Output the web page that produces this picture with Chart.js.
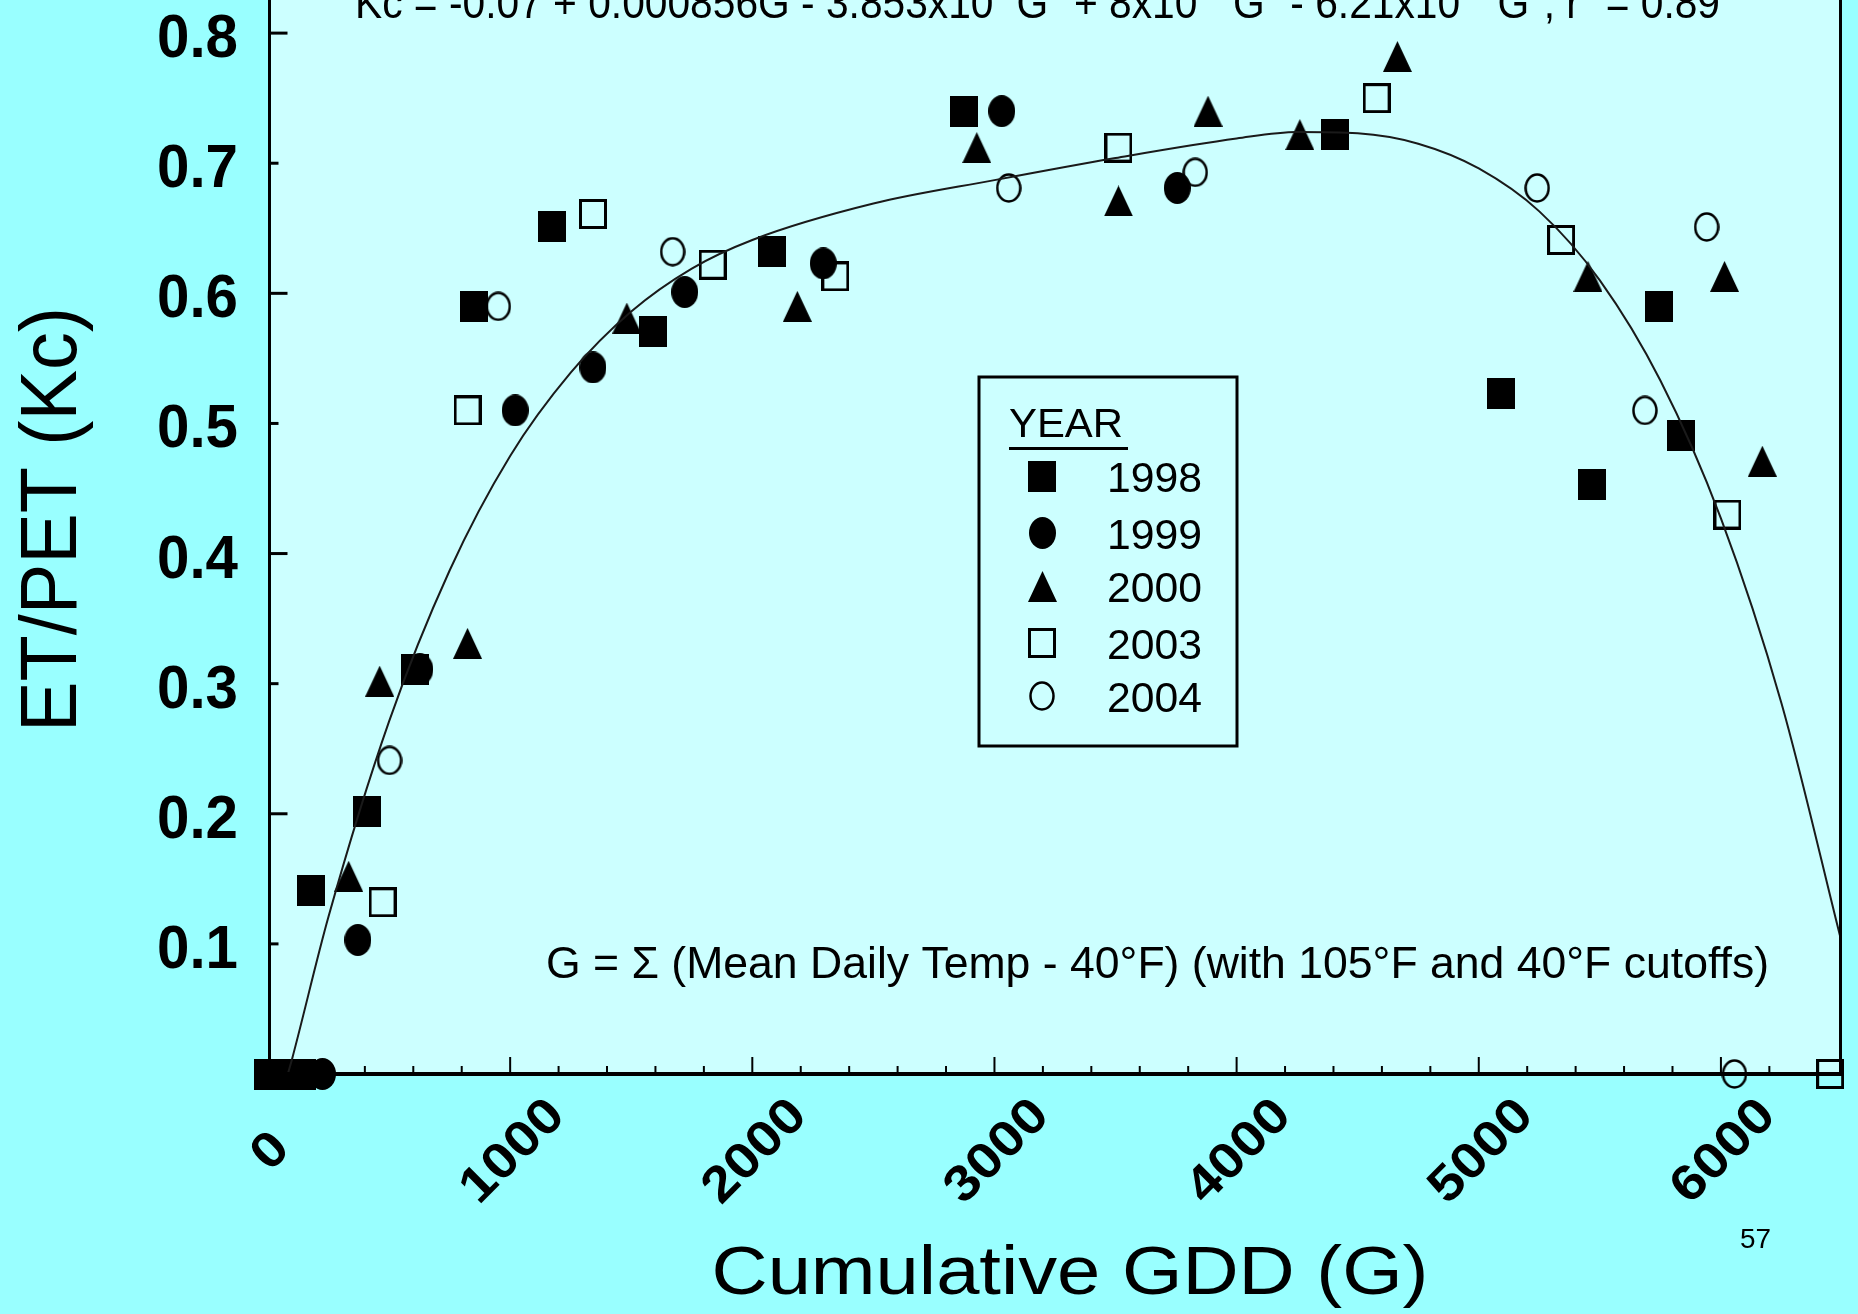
<!DOCTYPE html>
<html>
<head>
<meta charset="utf-8">
<script src="https://cdn.jsdelivr.net/npm/chart.js@4.4.1/dist/chart.umd.min.js"></script>
<style>
  html, body { margin: 0; padding: 0; overflow: hidden; background: #99ffff; }
  #wrap { position: relative; width: 1858px; height: 1314px; overflow: hidden; }
  #kc { position: absolute; left: 0; top: -130px; }
</style>
</head>
<body>
<div id="wrap"><canvas id="kc" width="1858" height="1444"></canvas></div>
<script>
// Datos (GDD acumulado, Kc)
const years = ['1998', '1999', '2000', '2003', '2004'];

const gdd1998 = [0, 70, 140, 177, 408, 605, 852, 1173, 1589, 2083, 2874, 4405, 5093, 5467, 5743, 5834];
const kc1998  = [0, 0, 0, 0.141, 0.202, 0.311, 0.590, 0.651, 0.571, 0.632, 0.740, 0.722, 0.523, 0.453, 0.590, 0.491];

const gdd1999 = [225, 371, 627, 1021, 1342, 1721, 2293, 3030, 3755];
const kc1999  = [0, 0.103, 0.311, 0.510, 0.543, 0.601, 0.623, 0.740, 0.681];

const gdd2000 = [110, 333, 461, 824, 1482, 2186, 2927, 3512, 3882, 4261, 4664, 5451, 6015, 6171];
const kc2000  = [0, 0.152, 0.302, 0.331, 0.581, 0.590, 0.712, 0.671, 0.740, 0.722, 0.782, 0.613, 0.613, 0.471];

const gdd2003 = [473, 824, 1342, 1836, 2343, 3512, 4578, 5340, 6027, 6451];
const kc2003  = [0.132, 0.510, 0.661, 0.622, 0.613, 0.712, 0.750, 0.641, 0.430, 0];

const gdd2004 = [502, 951, 1671, 3059, 3829, 5241, 5686, 5941, 6056];
const kc2004  = [0.241, 0.590, 0.632, 0.681, 0.693, 0.681, 0.510, 0.651, 0];

// curva ajustada
const curveG  = [82, 100, 250, 500, 750, 1000, 1250, 1500, 1750, 2000, 2500, 3000, 3500, 4000, 4250, 4500, 4750, 5000, 5250, 5500, 5750, 6000, 6250, 6500];
const curveKc = [0, 0.012, 0.121, 0.271, 0.387, 0.475, 0.539, 0.586, 0.619, 0.641, 0.669, 0.687, 0.704, 0.719, 0.724, 0.723, 0.715, 0.696, 0.663, 0.610, 0.533, 0.427, 0.285, 0.100];

const xTickLabels = ['0', '1000', '2000', '3000', '4000', '5000', '6000'];
const yTickLabels = ['0.1', '0.2', '0.3', '0.4', '0.5', '0.6', '0.7', '0.8'];

const OFF = 130; // el canvas sube 130px, la parte de arriba queda cortada
const FONT = '"Liberation Sans", Arial, sans-serif';

// Marcadores
function marker(w, h, draw) {
    const c = document.createElement('canvas');
    c.width = w; c.height = h;
    const x = c.getContext('2d');
    x.fillStyle = '#000'; x.strokeStyle = '#000';
    draw(x, w, h);
    return c;
}
const mSquare = marker(28, 31, (x, w, h) => x.fillRect(0, 0, w, h));
const mDot = marker(27, 32, (x, w, h) => { x.beginPath(); x.ellipse(w / 2, h / 2, w / 2, h / 2, 0, 0, Math.PI * 2); x.fill(); });
const mTri = marker(29, 31, (x, w, h) => { x.beginPath(); x.moveTo(w / 2, 0); x.lineTo(w, h); x.lineTo(0, h); x.closePath(); x.fill(); });
const mOpenSq = marker(28, 30, (x, w, h) => { x.lineWidth = 3; x.strokeRect(1.5, 1.5, w - 3, h - 3); });
const mOpenCirc = marker(26, 30, (x, w, h) => { x.lineWidth = 2.5; x.beginPath(); x.ellipse(w / 2, h / 2, w / 2 - 1.5, h / 2 - 1.5, 0, 0, Math.PI * 2); x.stroke(); });
const markers = [mSquare, mDot, mTri, mOpenSq, mOpenCirc];
const drawOrder = [4, 5, 3, 2, 1];

const pts = (g, k) => g.map((v, i) => ({ x: v, y: k[i] }));
const series = [[gdd1998, kc1998], [gdd1999, kc1999], [gdd2000, kc2000], [gdd2003, kc2003], [gdd2004, kc2004]];

const datasets = [{
    label: 'fit',
    data: pts(curveG, curveKc),
    showLine: true,
    borderColor: '#1a1a1a',
    borderWidth: 2,
    pointRadius: 0,
    cubicInterpolationMode: 'monotone',
    order: 0
}];
series.forEach((s, i) => {
    datasets.push({
        label: years[i],
        data: pts(s[0], s[1]),
        pointStyle: markers[i],
        pointRadius: 15,
        clip: false,
        order: drawOrder[i]
    });
});

function fitText(ctx, str, x, y, font, width, align) {
    ctx.save();
    ctx.font = font;
    ctx.textAlign = align || 'left';
    ctx.textBaseline = 'alphabetic';
    const w = ctx.measureText(str).width;
    ctx.translate(x, y);
    ctx.scale(width ? width / w : 1, 1);
    ctx.fillText(str, 0, 0);
    ctx.restore();
}

const eqSegs = [['Kc = -0.07 + 0.000856G - 3.853x10', 0], ['-7', 1], ['G', 0], ['2', 1], [' + 8x10', 0], ['-11', 1], ['G', 0], ['3', 1],
    [' - 6.21x10', 0], ['-15', 1], ['G', 0], ['4', 1], [', r', 0], ['2', 1], [' = 0.89', 0]];

function drawEquation(ctx, x, y, targetW) {
    ctx.save();
    let total = 0;
    for (const [t, sup] of eqSegs) {
        ctx.font = (sup ? '28px ' : '44px ') + FONT;
        total += ctx.measureText(t).width;
    }
    ctx.translate(x, y);
    ctx.scale(targetW / total, 1);
    let cx = 0;
    for (const [t, sup] of eqSegs) {
        ctx.font = (sup ? '28px ' : '44px ') + FONT;
        ctx.fillText(t, cx, sup ? -18 : 0);
        cx += ctx.measureText(t).width;
    }
    ctx.restore();
}

const backgroundPlugin = {
    id: 'bg',
    beforeDraw(chart) {
        const { ctx, chartArea: a } = chart;
        ctx.save();
        ctx.fillStyle = '#99ffff';
        ctx.fillRect(0, 0, chart.width, chart.height);
        ctx.fillStyle = '#ccffff';
        ctx.fillRect(a.left, a.top, a.right - a.left, a.bottom - a.top);
        ctx.restore();
    }
};

const framePlugin = {
    id: 'frame',
    afterDraw(chart) {
        const { ctx, chartArea: a } = chart;
        const xs = chart.scales.x, ys = chart.scales.y;
        const axisX = a.left + 1.5;
        ctx.save();
        ctx.strokeStyle = '#000';
        ctx.fillStyle = '#000';

        // ejes y marco
        ctx.lineWidth = 3;
        ctx.beginPath();
        ctx.moveTo(axisX, a.top); ctx.lineTo(axisX, a.bottom + 2);
        ctx.moveTo(a.right - 1.5, a.top); ctx.lineTo(a.right - 1.5, a.bottom + 2);
        ctx.moveTo(a.left, a.top + 1); ctx.lineTo(a.right, a.top + 1);
        ctx.stroke();
        ctx.lineWidth = 4;
        ctx.beginPath();
        ctx.moveTo(a.left, a.bottom); ctx.lineTo(a.right, a.bottom);
        ctx.stroke();

        // marcas del eje Y (hacia dentro)
        ctx.lineWidth = 3;
        yTickLabels.forEach((lab, i) => {
            const py = ys.getPixelForValue(parseFloat(lab));
            const len = (i % 2 === 1) ? 18 : 9;
            ctx.beginPath(); ctx.moveTo(axisX, py); ctx.lineTo(axisX + len, py); ctx.stroke();
            fitText(ctx, lab, 238, py + 24, 'bold 62px ' + FONT, 81, 'right');
        });

        // marcas del eje X
        ctx.lineWidth = 2;
        for (let g = 200; g < 6500; g += 200) {
            const px = xs.getPixelForValue(g);
            const len = (g % 1000 === 0) ? 17 : 8;
            ctx.beginPath(); ctx.moveTo(px, a.bottom); ctx.lineTo(px, a.bottom - len); ctx.stroke();
        }
        xTickLabels.forEach(lab => {
            const px = xs.getPixelForValue(parseFloat(lab));
            ctx.save();
            ctx.translate(px, 1149 + OFF);
            ctx.rotate(-Math.PI / 4);
            ctx.scale(1.12, 1);
            ctx.font = 'bold 50px ' + FONT;
            ctx.textAlign = 'center';
            ctx.fillText(lab, 0, 18);
            ctx.restore();
        });

        // textos en coordenadas de pagina
        ctx.translate(0, OFF);
        drawEquation(ctx, 355, 18, 1365);
        fitText(ctx, 'G = \u03A3 (Mean Daily Temp - 40\u00B0F) (with 105\u00B0F and 40\u00B0F cutoffs)', 546, 978, '44px ' + FONT, 1223);
        fitText(ctx, 'Cumulative GDD (G)', 1070, 1294, '69px ' + FONT, 717, 'center');
        fitText(ctx, '57', 1740, 1248, '28px ' + FONT, 31);

        ctx.save();
        ctx.translate(76, 519.5);
        ctx.rotate(-Math.PI / 2);
        fitText(ctx, 'ET/PET (Kc)', 0, 0, '80px ' + FONT, 425, 'center');
        ctx.restore();

        // leyenda
        ctx.lineWidth = 3;
        ctx.strokeRect(979, 377, 258, 369);
        fitText(ctx, 'YEAR', 1009, 437, '41px ' + FONT, 114);
        ctx.fillRect(1009, 447, 119, 3);
        const rowY = [476, 533, 586, 643, 696];
        years.forEach((yr, i) => {
            const m = markers[i];
            ctx.drawImage(m, Math.round(1042 - m.width / 2), Math.round(rowY[i] - m.height / 2));
            fitText(ctx, yr, 1107, rowY[i] + 16, '43px ' + FONT, 95);
        });
        ctx.restore();
    }
};

new Chart(document.getElementById('kc').getContext('2d'), {
    type: 'scatter',
    data: { datasets: datasets },
    options: {
        responsive: false,
        animation: false,
        devicePixelRatio: 1,
        events: [],
        layout: { padding: { left: 268, right: 11, top: 33, bottom: 240 } },
        scales: {
            x: { type: 'linear', min: 0, max: 6500, display: false },
            y: { type: 'linear', min: 0, max: 0.9, display: false }
        },
        plugins: {
            legend: { display: false },
            tooltip: { enabled: false }
        }
    },
    plugins: [backgroundPlugin, framePlugin]
});
</script>
</body>
</html>
